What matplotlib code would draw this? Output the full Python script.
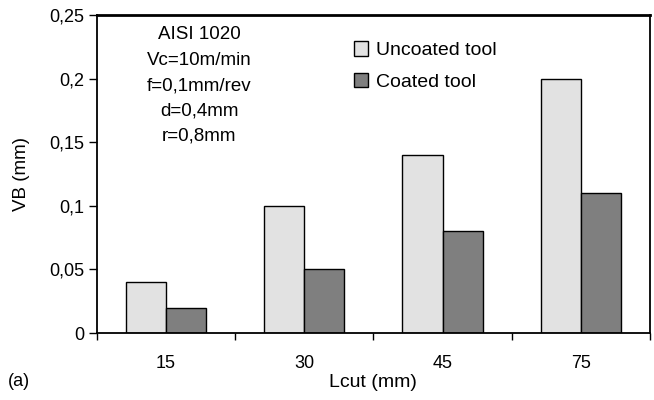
import matplotlib
matplotlib.use("Agg")
import matplotlib.pyplot as plt
import numpy as np
from matplotlib.ticker import FuncFormatter, FixedLocator

plt.rcParams['font.family'] = ['Liberation Sans', 'DejaVu Sans']

categories = ["15", "30", "45", "75"]
uncoated = [0.04, 0.10, 0.14, 0.20]
coated = [0.02, 0.05, 0.08, 0.11]
yticks = [0, 0.05, 0.1, 0.15, 0.2, 0.25]
conditions = ["AISI 1020", "Vc=10m/min", "f=0,1mm/rev", "d=0,4mm", "r=0,8mm"]

fig = plt.figure(figsize=(6.54, 4.0), dpi=100)
ax = fig.add_axes([0.148, 0.1675, 0.846, 0.795])

x = np.arange(len(categories))
w = 0.29
ax.bar(x - w/2, uncoated, w, color="#e2e2e2", edgecolor="black", linewidth=1.0, label="Uncoated tool")
ax.bar(x + w/2, coated, w, color="#7f7f7f", edgecolor="black", linewidth=1.0, label="Coated tool")

ax.set_xlim(-0.5, len(categories) - 0.5)
ax.set_ylim(0, 0.25)
ax.set_yticks(yticks)
ax.yaxis.set_major_formatter(FuncFormatter(lambda v, p: ("%g" % round(v, 3)).replace(".", ",")))
ax.set_xticks(x)
ax.set_xticklabels(categories)
ax.tick_params(axis='x', which='major', length=0, pad=16, labelsize=13)
ax.xaxis.set_minor_locator(FixedLocator(np.arange(-0.5, len(categories), 1.0)))
ax.tick_params(axis='x', which='minor', length=5, width=1, direction='out')
ax.tick_params(axis='y', length=6, width=1, direction='out', labelsize=13, pad=3)

for s in ax.spines.values():
    s.set_linewidth(1.3)
ax.spines['top'].set_linewidth(2)

ax.set_ylabel("VB (mm)", fontsize=13.5, labelpad=14)
ax.set_xlabel("Lcut (mm)", fontsize=14, labelpad=1)
fig.text(0.012, 0.045, "(a)", fontsize=13, ha='left', va='center')

ax.text(0.185, 0.965, "\n".join(conditions), transform=ax.transAxes, ha='center', va='top',
        fontsize=13.5, linespacing=1.65)

ax.legend(loc='upper left', bbox_to_anchor=(0.433, 0.972), frameon=False, fontsize=14,
          handlelength=0.75, handleheight=0.75, handletextpad=0.4, labelspacing=0.7)

fig.savefig("out.png", dpi=100)
